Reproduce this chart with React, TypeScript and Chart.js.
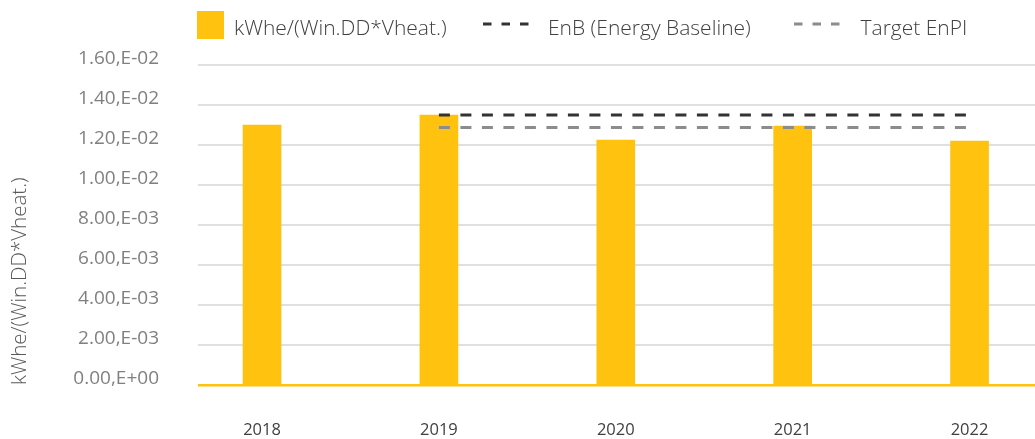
import React, { useEffect, useRef } from "react";
import { Chart, registerables } from "chart.js";

Chart.register(...registerables);

// ---------- data ----------
const years = ["2018", "2019", "2020", "2021", "2022"];
const enpiValues = [0.013, 0.0135, 0.01225, 0.01295, 0.0122];
const enbValues: (number | null)[] = [null, 0.0135, 0.0135, 0.0135, 0.0135];
const targetValues: (number | null)[] = [null, 0.01287, 0.01287, 0.01287, 0.01287];
const yTickValues = [0, 0.002, 0.004, 0.006, 0.008, 0.01, 0.012, 0.014, 0.016];
const yTickLabels = [
  "0.00,E+00",
  "2.00,E-03",
  "4.00,E-03",
  "6.00,E-03",
  "8.00,E-03",
  "1.00,E-02",
  "1.20,E-02",
  "1.40,E-02",
  "1.60,E-02",
];
const seriesLabels = ["kWhe/(Win.DD*Vheat.)", "EnB (Energy Baseline)", "Target EnPI"];
const yAxisTitle = "kWhe/(Win.DD*Vheat.)";

// ---------- styles ----------
const FONT = "'Open Sans', 'DejaVu Sans', sans-serif";
const YELLOW = "#FFC20F";
const ENB_COLOR = "#333333";
const TARGET_COLOR = "#8C8C8C";
const LEGEND_TEXT = "#404040";

const toPoints = (vals: (number | null)[]) =>
  vals
    .map((v, i) => ({ x: i, y: v }))
    .filter((p) => p.y !== null) as { x: number; y: number }[];

function DashSample({ left, color }: { left: number; color: string }) {
  return (
    <svg width={50} height={6} style={{ position: "absolute", left, top: 21 }}>
      <line
        x1={0}
        y1={3}
        x2={47}
        y2={3}
        stroke={color}
        strokeWidth={3}
        strokeDasharray="8.5 10"
      />
    </svg>
  );
}

const textStyle = (left: number): React.CSSProperties => ({
  position: "absolute",
  left,
  top: 16.5,
  fontFamily: FONT,
  fontWeight: 300,
  fontSize: 21,
  lineHeight: "20px",
  color: LEGEND_TEXT,
  whiteSpace: "nowrap",
});

export default function App() {
  const canvasRef = useRef<HTMLCanvasElement | null>(null);

  useEffect(() => {
    if (!canvasRef.current) return;
    const chart = new Chart(canvasRef.current, {
      type: "bar",
      data: {
        datasets: [
          {
            type: "line",
            label: seriesLabels[1],
            data: toPoints(enbValues),
            borderColor: ENB_COLOR,
            borderWidth: 3,
            borderDash: [11, 10.5],
            pointRadius: 0,
            fill: false,
            order: 0,
          } as any,
          {
            type: "line",
            label: seriesLabels[2],
            data: toPoints(targetValues),
            borderColor: TARGET_COLOR,
            borderWidth: 3,
            borderDash: [11, 10.5],
            pointRadius: 0,
            fill: false,
            order: 1,
          } as any,
          {
            type: "bar",
            label: seriesLabels[0],
            data: toPoints(enpiValues),
            backgroundColor: YELLOW,
            borderWidth: 0,
            barThickness: 38,
            order: 2,
          } as any,
        ],
      },
      options: {
        responsive: false,
        animation: false,
        devicePixelRatio: 1,
        layout: { padding: { top: 65, right: 0, left: 0, bottom: 0 } },
        plugins: {
          legend: { display: false },
          tooltip: { enabled: false },
        },
        scales: {
          x: {
            type: "linear",
            min: -0.362,
            max: 4.37,
            offset: false,
            grid: { display: false, drawTicks: false, offset: false },
            border: { display: false },
            afterBuildTicks: (axis: any) => {
              axis.ticks = years.map((_, i) => ({ value: i }));
            },
            afterFit: (axis: any) => {
              axis.height = 54;
            },
            ticks: {
              autoSkip: false,
              maxRotation: 0,
              padding: 35,
              color: "#404040",
              font: { family: FONT, size: 16.5, weight: "400" as any },
              callback: (_v: any, i: number) => years[i],
            },
          },
          y: {
            type: "linear",
            min: 0,
            max: 0.016,
            afterBuildTicks: (axis: any) => {
              axis.ticks = yTickValues.map((v) => ({ value: v }));
            },
            afterFit: (axis: any) => {
              axis.width = 198;
            },
            grid: {
              drawTicks: false,
              color: (ctx: any) => (ctx.tick && ctx.tick.value === 0 ? YELLOW : "#E0E0E0"),
              lineWidth: (ctx: any) => (ctx.tick && ctx.tick.value === 0 ? 2.5 : 2),
            },
            border: { display: false },
            ticks: {
              padding: 39,
              labelOffset: -6,
              color: "#808080",
              font: { family: FONT, size: 19, weight: "400" as any },
              callback: (_v: any, i: number) => yTickLabels[i],
            },
            title: {
              display: true,
              text: yAxisTitle,
              align: "start",
              color: "#595959",
              padding: { top: 8, bottom: 0 },
              font: { family: FONT, size: 20.5, weight: "300" as any },
            },
          },
        },
      },
    });
    return () => chart.destroy();
  }, []);

  return (
    <div
      style={{
        position: "absolute",
        left: 0,
        top: 0,
        width: 1035,
        height: 439,
        background: "#ffffff",
        overflow: "hidden",
      }}
    >
      <canvas ref={canvasRef} width={1035} height={439} style={{ display: "block" }} />
      <div
        style={{
          position: "absolute",
          left: 197,
          top: 11,
          width: 27,
          height: 28,
          background: YELLOW,
        }}
      />
      <span style={textStyle(234)}>{seriesLabels[0]}</span>
      <DashSample left={482.5} color={ENB_COLOR} />
      <span style={textStyle(548)}>{seriesLabels[1]}</span>
      <DashSample left={794} color={TARGET_COLOR} />
      <span style={textStyle(860.5)}>{seriesLabels[2]}</span>
    </div>
  );
}
